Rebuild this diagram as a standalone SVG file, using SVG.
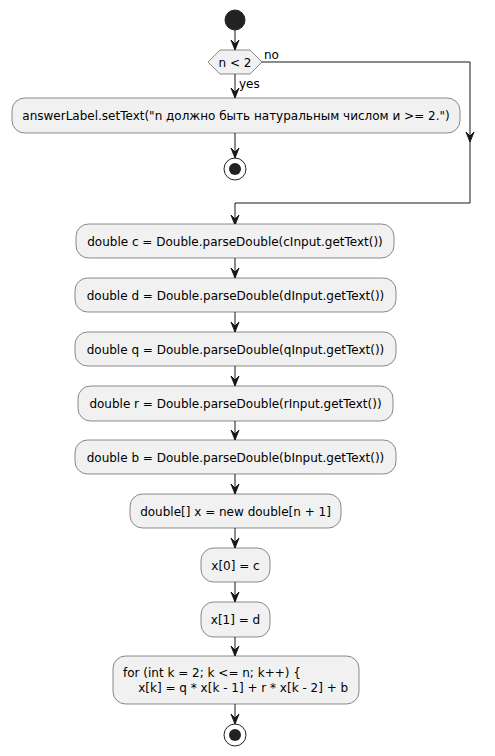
<svg xmlns="http://www.w3.org/2000/svg" width="495" height="756" viewBox="0 0 495 756">
<defs>
<style>
.box{fill:#F1F1F1;stroke:#181818;stroke-width:0.5}
.t{font-family:"DejaVu Sans",sans-serif;font-size:12px;fill:#000}
.c{text-anchor:middle}
.ln{fill:none;stroke:#181818;stroke-width:1}
.ah{fill:#181818;stroke:#181818;stroke-width:1}
</style>
</defs>
<rect width="495" height="756" fill="#FFFFFF"/>
<g id="connectors">
<line class="ln" x1="235" y1="30" x2="235" y2="50"/>
<polygon class="ah" points="231,40 235,50 239,40 235,44"/>
<line class="ln" x1="235" y1="74" x2="235" y2="98"/>
<polygon class="ah" points="231,88 235,98 239,88 235,92"/>
<text class="t" x="239" y="88" font-size="11">yes</text>
<polyline class="ln" points="262,62 470,62 470,203 235,203 235,225"/>
<polygon class="ah" points="466,132 470,142 474,132 470,136"/>
<polygon class="ah" points="231,215 235,225 239,215 235,219"/>
<text class="t" x="264" y="59" font-size="11">no</text>
<line class="ln" x1="235" y1="133" x2="235" y2="158"/>
<polygon class="ah" points="231,148 235,158 239,148 235,152"/>
<line class="ln" x1="235" y1="258" x2="235" y2="278"/>
<polygon class="ah" points="231,268 235,278 239,268 235,272"/>
<line class="ln" x1="235" y1="312" x2="235" y2="332"/>
<polygon class="ah" points="231,322 235,332 239,322 235,326"/>
<line class="ln" x1="235" y1="366" x2="235" y2="386"/>
<polygon class="ah" points="231,376 235,386 239,376 235,380"/>
<line class="ln" x1="235" y1="421" x2="235" y2="440"/>
<polygon class="ah" points="231,430 235,440 239,430 235,434"/>
<line class="ln" x1="235" y1="474" x2="235" y2="494"/>
<polygon class="ah" points="231,484 235,494 239,484 235,488"/>
<line class="ln" x1="235" y1="528" x2="235" y2="548"/>
<polygon class="ah" points="231,538 235,548 239,538 235,542"/>
<line class="ln" x1="235" y1="582" x2="235" y2="602"/>
<polygon class="ah" points="231,592 235,602 239,592 235,596"/>
<line class="ln" x1="235" y1="637" x2="235" y2="656"/>
<polygon class="ah" points="231,646 235,656 239,646 235,650"/>
<line class="ln" x1="235" y1="704" x2="235" y2="724"/>
<polygon class="ah" points="231,714 235,724 239,714 235,718"/>
</g>
<g id="start"><circle cx="235" cy="20" r="10" fill="#222222" stroke="#222222"/></g>
<g id="decision">
<polygon class="box" points="208,62 220,50 250,50 262,62 250,74 220,74"/>
<text class="t c" x="235" y="66.5" font-size="11">n &lt; 2</text>
</g>
<g id="answer">
<rect class="box" x="12" y="98" width="448" height="35" rx="12.5"/>
<text class="t c" x="236" y="120">answerLabel.setText("n должно быть натуральным числом и &gt;= 2.")</text>
</g>
<g id="stop1">
<circle cx="235" cy="169" r="11" fill="none" stroke="#222222" stroke-width="1"/>
<circle cx="235" cy="169" r="6" fill="#222222"/>
</g>
<g id="c">
<rect class="box" x="76" y="224" width="318" height="34" rx="12.5"/>
<text class="t c" x="235" y="246">double c = Double.parseDouble(cInput.getText())</text>
</g>
<g id="d">
<rect class="box" x="75" y="278" width="321" height="34" rx="12.5"/>
<text class="t c" x="235.5" y="300">double d = Double.parseDouble(dInput.getText())</text>
</g>
<g id="q">
<rect class="box" x="75" y="332" width="321" height="34" rx="12.5"/>
<text class="t c" x="235.5" y="354">double q = Double.parseDouble(qInput.getText())</text>
</g>
<g id="r">
<rect class="box" x="78" y="386" width="315" height="35" rx="12.5"/>
<text class="t c" x="235.5" y="408">double r = Double.parseDouble(rInput.getText())</text>
</g>
<g id="b">
<rect class="box" x="75" y="440" width="321" height="34" rx="12.5"/>
<text class="t c" x="235.5" y="462">double b = Double.parseDouble(bInput.getText())</text>
</g>
<g id="arr">
<rect class="box" x="130" y="494" width="211" height="34" rx="12.5"/>
<text class="t c" x="235.5" y="516">double[] x = new double[n + 1]</text>
</g>
<g id="x0">
<rect class="box" x="201" y="548" width="69" height="34" rx="12.5"/>
<text class="t c" x="235.5" y="570">x[0] = c</text>
</g>
<g id="x1">
<rect class="box" x="201" y="602" width="69" height="35" rx="12.5"/>
<text class="t c" x="235.5" y="624">x[1] = d</text>
</g>
<g id="loop">
<rect class="box" x="113" y="656" width="246" height="48" rx="12.5"/>
<text class="t" x="123" y="677">for (int k = 2; k &lt;= n; k++) {</text>
<text class="t" x="123" y="692" xml:space="preserve">    x[k] = q * x[k - 1] + r * x[k - 2] + b</text>
</g>
<g id="stop2">
<circle cx="235" cy="735" r="11" fill="none" stroke="#222222" stroke-width="1"/>
<circle cx="235" cy="735" r="6" fill="#222222"/>
</g>
</svg>
